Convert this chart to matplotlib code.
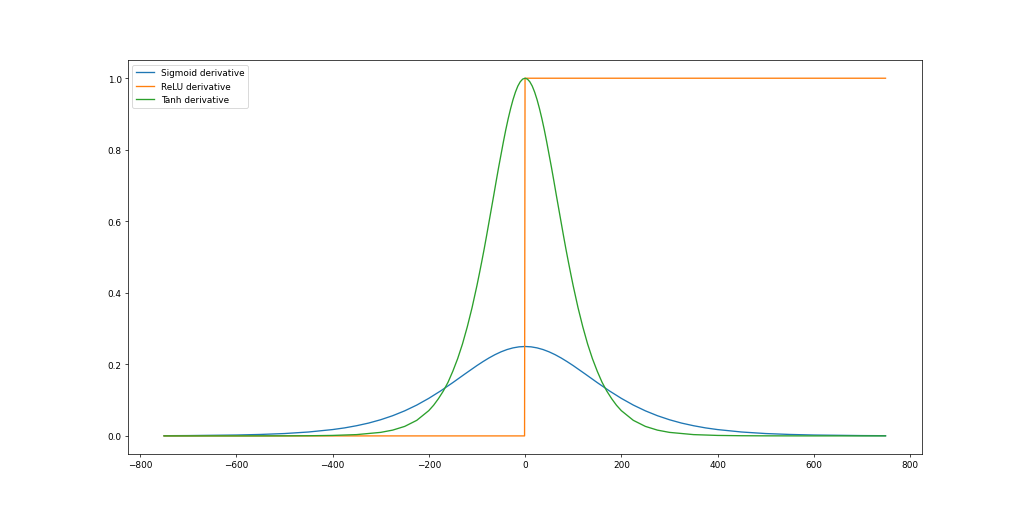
import matplotlib
matplotlib.use("Agg")
import matplotlib.pyplot as plt

# Sigmoid derivative (x positions on axis)
sig_x = [-750, -700, -600, -550, -500, -450, -400, -375, -350, -325, -300, -275,
         -250, -225, -200, -175, -150, -125, -100, -87.5, -75, -62.5, -50, -37.5,
         -25, -12.5, 0, 12.5, 25, 37.5, 50, 62.5, 75, 87.5, 100, 125, 150, 175,
         200, 225, 250, 275, 300, 325, 350, 375, 400, 450, 500, 550, 600, 700, 749]
sig_y = [0.00055, 0.00091, 0.00247, 0.00407, 0.0066, 0.0109, 0.0177, 0.0224,
         0.0285, 0.0359, 0.0452, 0.0565, 0.0701, 0.0862, 0.1050, 0.1261, 0.1491,
         0.1731, 0.1966, 0.2076, 0.2179, 0.2271, 0.2350, 0.2414, 0.2461, 0.2490,
         0.2500, 0.2490, 0.2461, 0.2414, 0.2350, 0.2271, 0.2179, 0.2076, 0.1966,
         0.1731, 0.1491, 0.1261, 0.1050, 0.0862, 0.0701, 0.0565, 0.0452, 0.0359,
         0.0285, 0.0224, 0.0177, 0.0109, 0.0066, 0.00407, 0.00247, 0.00091, 0.00055]

# ReLU derivative
relu_x = [-750, -1, 0, 749]
relu_y = [0.0, 0.0, 1.0, 1.0]

# Tanh derivative
tanh_x = [-750, -600, -500, -450, -400, -350, -300, -275, -250, -225, -200, -190,
          -180, -170, -160, -150, -140, -130, -120, -110, -100, -95, -90, -85,
          -80, -75, -70, -65, -60, -55, -50, -45, -40, -35, -30, -25, -20, -15,
          -10, -5, 0, 5, 10, 15, 20, 25, 30, 35, 40, 45, 50, 55, 60, 65, 70, 75,
          80, 85, 90, 95, 100, 110, 120, 130, 140, 150, 160, 170, 180, 190, 200,
          225, 250, 275, 300, 350, 400, 450, 500, 600, 749]
tanh_y = [0.0, 0.000025, 0.00018, 0.00049, 0.00134, 0.00364, 0.00987, 0.0162,
          0.0266, 0.0435, 0.0707, 0.0857, 0.104, 0.125, 0.150, 0.181, 0.216,
          0.257, 0.305, 0.359, 0.420, 0.453, 0.487, 0.522, 0.559, 0.597, 0.635,
          0.673, 0.712, 0.750, 0.786, 0.822, 0.856, 0.887, 0.915, 0.940, 0.961,
          0.978, 0.990, 0.9975, 1.0, 0.9975, 0.990, 0.978, 0.961, 0.940, 0.915,
          0.887, 0.856, 0.822, 0.786, 0.750, 0.712, 0.673, 0.635, 0.597, 0.559,
          0.522, 0.487, 0.453, 0.420, 0.359, 0.305, 0.257, 0.216, 0.181, 0.150,
          0.125, 0.104, 0.0857, 0.0707, 0.0435, 0.0266, 0.0162, 0.00987,
          0.00364, 0.00134, 0.00049, 0.00018, 0.000025, 0.0]

labels = ["Sigmoid derivative", "ReLU derivative", "Tanh derivative"]

fig, ax = plt.subplots(figsize=(16, 7.984), dpi=64)
ax.plot(sig_x, sig_y, color="#1f77b4", label=labels[0])
ax.plot(relu_x, relu_y, color="#ff7f0e", label=labels[1])
ax.plot(tanh_x, tanh_y, color="#2ca02c", label=labels[2])
ax.legend(loc="upper left")
fig.savefig("out.png", dpi=64)
